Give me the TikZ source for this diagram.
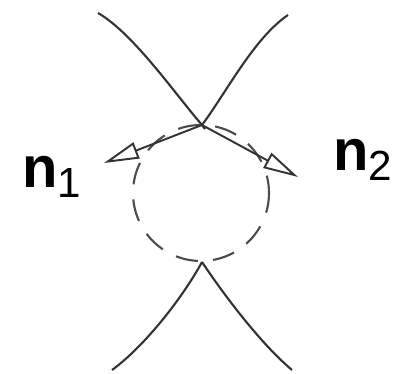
\documentclass[tikz,border=0pt]{standalone}
\usepackage{fontspec}
\setmainfont{Liberation Sans}
\usepackage{tikz}
\usetikzlibrary{arrows.meta, positioning}
\tikzset{
    curve/.style={line width=1.2pt, black!80},
    dashcirc/.style={line width=1.2pt, black!70, dash pattern=on 0.45cm off 0.3cm, dash phase=0.1cm},
    normal/.style={line width=1.1pt, black!80, -{Triangle[open, length=0.7cm, width=0.34cm, line width=1.1pt]}},
    label/.style={anchor=base west, inner sep=0pt, font=\fontsize{33}{36}\selectfont}
}
\newcommand{\nsub}[1]{{\bfseries n}\raisebox{-0.22cm}{\fontsize{24}{24}\selectfont #1}}

\begin{document}
\begin{tikzpicture}[x=0.02cm, y=0.02cm]
    \useasboundingbox (0,0) rectangle (393,373);

    \coordinate (top) at (202,248);
    \coordinate (bot) at (202,111);
    \coordinate (tl) at (98,360);
    \coordinate (tr) at (288,358);
    \coordinate (bl) at (112,3);
    \coordinate (br) at (292,3);
    \coordinate (tip1) at (104,210);
    \coordinate (tip2) at (298,196);

    % dashed circle
    \draw [dashcirc] (201,180) circle [radius=68];

    % the four branches
    \draw [curve] (tl) .. controls (133,340) and (176,278) .. (top) -- ++(3,-4);
    \draw [curve] (tr) .. controls (254,335) and (226,280) .. (top);
    \draw [curve] (bot) .. controls (183,76) and (145,27) .. (bl);
    \draw [curve] (bot) .. controls (224,78) and (261,29) .. (br);

    % normals
    \draw [normal] (top) -- (tip1);
    \draw [normal] (top) -- (tip2);

    \node (lbl1) [label] at (22,186) {\nsub{1}};
    \node (lbl2) [label] at (333,203) {\nsub{2}};
\end{tikzpicture}
\end{document}
